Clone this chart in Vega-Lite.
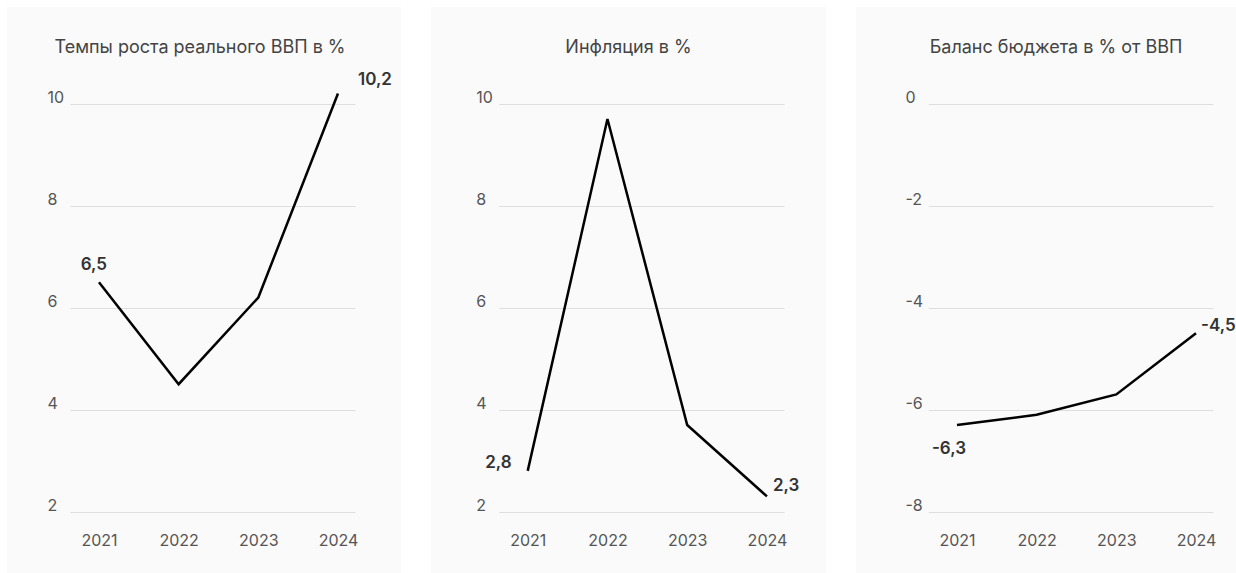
{
  "$schema": "https://vega.github.io/schema/vega-lite/v6.json",
  "background": "#ffffff",
  "padding": {"left": 7, "top": 7, "right": 0, "bottom": 0},
  "autosize": {"type": "pad"},
  "bounds": "flush",
  "spacing": 30,
  "config": {
    "view": {"fill": "#fafafa", "stroke": null},
    "font": "Inter",
    "title": {"font": "Inter", "fontSize": 18, "fontWeight": "normal", "color": "#444444", "baseline": "alphabetic", "frame": "group", "anchor": "middle", "offset": -50},
    "axis": {"labelFont": "Inter", "labelFontSize": 16, "labelColor": "#555555", "domain": false, "ticks": false, "tickSize": 0, "title": null, "gridColor": "#dedede", "gridWidth": 1},
    "line": {"color": "#000000", "strokeWidth": 2.5},
    "text": {"font": "Inter", "fontSize": 17, "fontWeight": 600, "color": "#333333", "baseline": "alphabetic"}
  },
  "hconcat": [
    {
      "width": 394,
      "height": 566,
      "title": {"text": "Темпы роста реального ВВП в %", "dx": -4},
      "data": {"values": [
        {"year": "2021", "value": 6.5, "label": "6,5"},
        {"year": "2022", "value": 4.5, "label": ""},
        {"year": "2023", "value": 6.2, "label": ""},
        {"year": "2024", "value": 10.2, "label": "10,2"}
      ]},
      "encoding": {
        "x": {"field": "year", "type": "ordinal", "scale": {"type": "point", "range": [63, 348], "padding": 0.2887, "align": 0.63},
          "axis": {"orient": "bottom", "offset": -61.3, "grid": false, "labelAngle": 0, "labelPadding": 34, "labelBaseline": "alphabetic"}},
        "y": {"field": "value", "type": "quantitative", "scale": {"domain": [2, 10], "range": [504.7, 96.7], "nice": false, "zero": false},
          "axis": {"values": [2, 4, 6, 8, 10], "offset": -63, "grid": true, "labelAlign": "left", "labelPadding": 23, "labelBaseline": "alphabetic", "labelOffset": -1, "labelExpr": "'' + datum.value"}}
      },
      "layer": [
        {"mark": {"type": "line"}},
        {"transform": [{"filter": "datum.year == '2021'"}], "mark": {"type": "text", "align": "right", "dx": 8, "dy": -12}, "encoding": {"text": {"field": "label"}}},
        {"transform": [{"filter": "datum.year == '2024'"}], "mark": {"type": "text", "align": "left", "dx": 20, "dy": -8.5}, "encoding": {"text": {"field": "label"}}}
      ]
    },
    {
      "width": 395,
      "height": 566,
      "title": {"text": "Инфляция в %", "dx": 0},
      "data": {"values": [
        {"year": "2021", "value": 2.8, "label": "2,8"},
        {"year": "2022", "value": 9.7, "label": ""},
        {"year": "2023", "value": 3.7, "label": ""},
        {"year": "2024", "value": 2.3, "label": "2,3"}
      ]},
      "encoding": {
        "x": {"field": "year", "type": "ordinal", "scale": {"type": "point", "range": [67.7, 353], "padding": 0.2887, "align": 0.63},
          "axis": {"orient": "bottom", "offset": -61.3, "grid": false, "labelAngle": 0, "labelPadding": 34, "labelBaseline": "alphabetic"}},
        "y": {"field": "value", "type": "quantitative", "scale": {"domain": [2, 10], "range": [504.7, 96.7], "nice": false, "zero": false},
          "axis": {"values": [2, 4, 6, 8, 10], "offset": -67.7, "grid": true, "labelAlign": "left", "labelPadding": 23, "labelBaseline": "alphabetic", "labelOffset": -1, "labelExpr": "'' + datum.value"}}
      },
      "layer": [
        {"mark": {"type": "line"}},
        {"transform": [{"filter": "datum.year == '2021'"}], "mark": {"type": "text", "align": "right", "dx": -16, "dy": -3}, "encoding": {"text": {"field": "label"}}},
        {"transform": [{"filter": "datum.year == '2024'"}], "mark": {"type": "text", "align": "left", "dx": 6, "dy": -5}, "encoding": {"text": {"field": "label"}}}
      ]
    },
    {
      "width": 380,
      "height": 566,
      "title": {"text": "Баланс бюджета в % от ВВП", "dx": 10},
      "data": {"values": [
        {"year": "2021", "value": -6.3, "label": "-6,3"},
        {"year": "2022", "value": -6.1, "label": ""},
        {"year": "2023", "value": -5.7, "label": ""},
        {"year": "2024", "value": -4.5, "label": "-4,5"}
      ]},
      "encoding": {
        "x": {"field": "year", "type": "ordinal", "scale": {"type": "point", "range": [72, 357], "padding": 0.2887, "align": 0.63},
          "axis": {"orient": "bottom", "offset": -61.3, "grid": false, "labelAngle": 0, "labelPadding": 34, "labelBaseline": "alphabetic"}},
        "y": {"field": "value", "type": "quantitative", "scale": {"domain": [-8, 0], "range": [504.7, 96.7], "nice": false, "zero": false},
          "axis": {"values": [-8, -6, -4, -2, 0], "offset": -72, "grid": true, "labelAlign": "left", "labelPadding": 23, "labelBaseline": "alphabetic", "labelOffset": -1, "labelExpr": "'' + datum.value"}}
      },
      "layer": [
        {"mark": {"type": "line"}},
        {"transform": [{"filter": "datum.year == '2021'"}], "mark": {"type": "text", "align": "right", "dx": 9, "dy": 28.5}, "encoding": {"text": {"field": "label"}}},
        {"transform": [{"filter": "datum.year == '2024'"}], "mark": {"type": "text", "align": "left", "dx": 5, "dy": -2.3}, "encoding": {"text": {"field": "label"}}}
      ]
    }
  ]
}
